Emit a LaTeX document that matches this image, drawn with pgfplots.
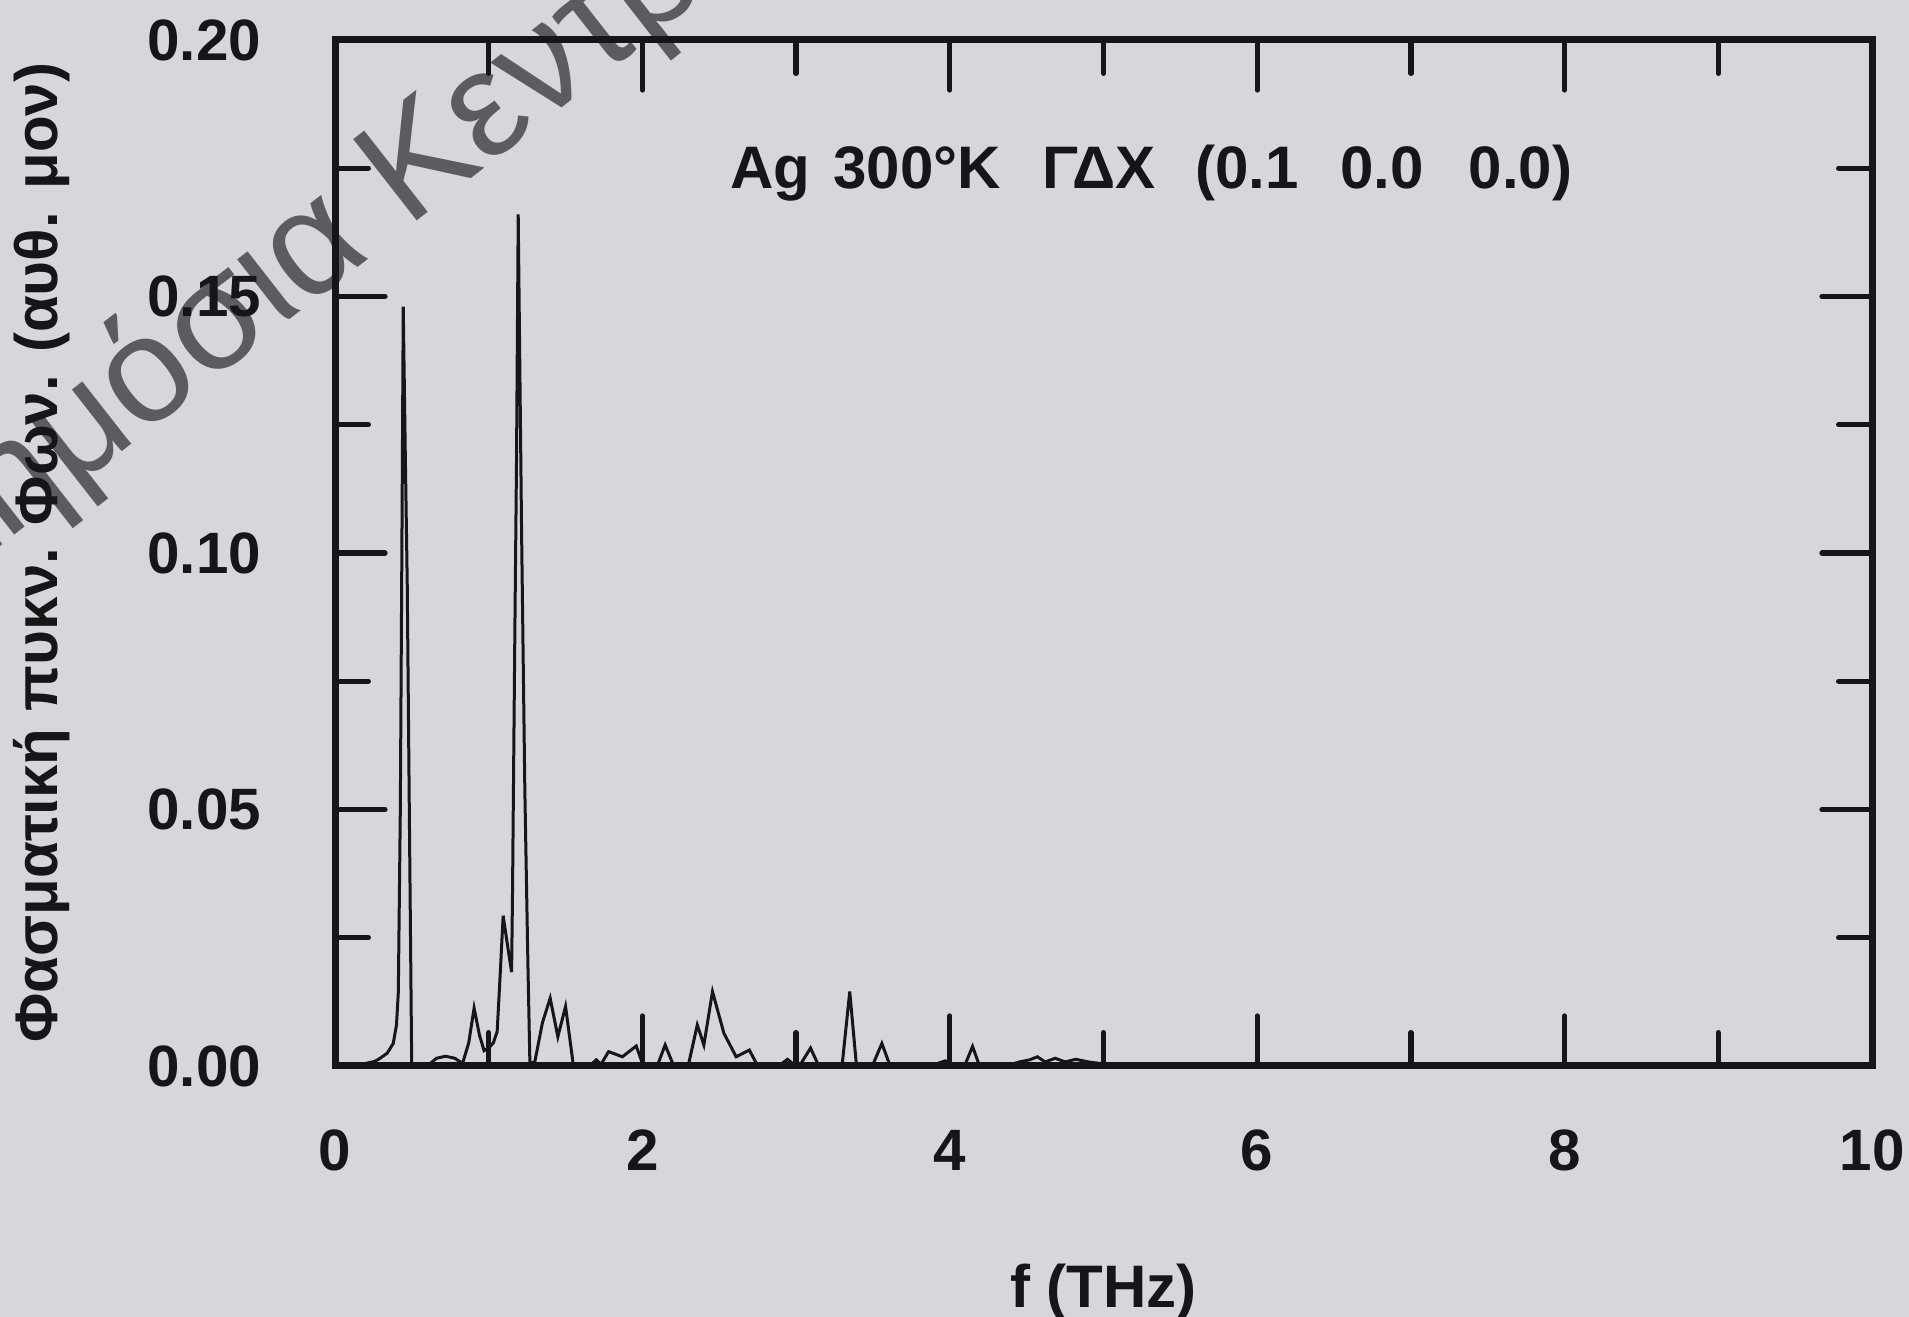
\documentclass[border=0pt]{standalone}
\usepackage{fontspec}
\setmainfont{Liberation Sans}
\usepackage{pgfplots}
\pgfplotsset{compat=1.18}
\definecolor{bgcol}{RGB}{214,214,220}
\definecolor{ink}{RGB}{22,22,25}
\definecolor{wm}{RGB}{92,92,96}
\begin{document}
\begin{tikzpicture}
\path[use as bounding box, fill=bgcol] (0,0) rectangle (572.7pt,395.1pt);
\node[rotate=38, anchor=base west, font=\fontsize{45}{54}\selectfont, text=wm, inner sep=0pt] at (122.1pt,326.5pt) {Κεντρική};
\node[rotate=38, anchor=base east, font=\fontsize{45}{54}\selectfont, text=wm, inner sep=0pt] at (112.25pt,318.8pt) {Δημόσια};
\begin{axis}[
  at={(100.5pt,75.3pt)}, anchor=south west,
  scale only axis, width=461.1pt, height=307.8pt,
  xmin=0, xmax=10, ymin=0, ymax=0.2,
  axis line style={line width=2.1pt, draw=ink},
  tick align=inside, tick pos=both,
  xtick={0,2,4,6,8,10}, minor xtick={1,3,5,7,9},
  ytick={0,0.05,0.1,0.15,0.2}, minor ytick={0.025,0.075,0.125,0.175},
  major tick length=15pt, minor tick length=10pt,
  every tick/.style={line width=1.6pt, draw=ink, line cap=round},
  scaled y ticks=false,
  /pgf/number format/assume math mode=true,
  y tick label style={/pgf/number format/fixed, /pgf/number format/fixed zerofill, /pgf/number format/precision=2},
  ticklabel style={font=\bfseries\fontsize{17.5}{20}\selectfont, text=ink},
  yticklabel style={anchor=east, inner sep=0pt, xshift=-22pt},
  xticklabel style={anchor=north, inner sep=0pt, yshift=-19pt},
  xlabel={f (THz)},
  xlabel style={at={(axis description cs:0.5,-0.220)}, anchor=center, font=\bfseries\fontsize{18}{21}\selectfont, text=ink},
  ylabel={Φασματική πυκν. Φων. (αυθ. μον)},
  ylabel style={at={(axis description cs:-0.1907,0.5)}, anchor=center, font=\bfseries\fontsize{18}{21}\selectfont, text=ink},
]
\addplot[ink, line width=0.9pt, sharp plot, mark=none] coordinates {
(0,0.0003) (0.10,0.0003) (0.20,0.0005) (0.26,0.0009) (0.293,0.0015) (0.34,0.0025) (0.379,0.0044) (0.40,0.008) (0.412,0.0144) (0.425,0.05) (0.435,0.10) (0.444,0.148) (0.457,0.120) (0.470,0.094) (0.485,0.045) (0.499,0.0005)
(0.55,0.0003) (0.62,0.0005) (0.66,0.0015) (0.72,0.0019) (0.78,0.0015) (0.83,0.0005) (0.87,0.0045) (0.905,0.0113) (0.94,0.0060) (0.97,0.0030) (1.00,0.0035) (1.03,0.0045) (1.055,0.0067) (1.075,0.018)
(1.094,0.0293) (1.12,0.024) (1.149,0.0183) (1.155,0.034) (1.170,0.084) (1.181,0.118) (1.192,0.166) (1.214,0.104) (1.235,0.054) (1.255,0.020) (1.268,0.0005)
(1.30,0.0008) (1.35,0.0085) (1.40,0.0132) (1.45,0.0057) (1.50,0.0116) (1.55,0.0003) (1.60,0.0003) (1.67,0.0004) (1.70,0.0012) (1.73,0.0003) (1.78,0.0028) (1.87,0.0018) (1.96,0.0039) (2.00,0.0005) (2.05,0.0003) (2.10,0.0003) (2.148,0.0041) (2.20,0.0003)
(2.30,0.0003) (2.357,0.0080) (2.40,0.0041) (2.456,0.0145) (2.53,0.0064) (2.61,0.0018) (2.696,0.0031) (2.745,0.0003) (2.90,0.0003) (2.944,0.0013) (2.98,0.0004) (3.03,0.0004) (3.094,0.0035) (3.143,0.0003)
(3.30,0.0003) (3.349,0.0145) (3.392,0.0003) (3.50,0.0003) (3.558,0.0044) (3.608,0.0003) (3.90,0.0003) (3.97,0.0010) (4.02,0.0003) (4.10,0.0003) (4.148,0.0038) (4.19,0.0003)
(4.40,0.0003) (4.454,0.0008) (4.52,0.0012) (4.57,0.0018) (4.62,0.0008) (4.686,0.0015) (4.75,0.0008) (4.82,0.0013) (4.90,0.0008) (5.00,0.0004) (6.0,0.0002) (8.0,0.0002) (10.0,0.0002)
};
\node[anchor=base, font=\bfseries\fontsize{18}{21}\selectfont, text=ink] at (axis cs:5.31,0.1711) {Ag\hspace{7pt}300°K\hspace{12.5pt}ΓΔΧ\hspace{12pt}(0.1\hspace{12.5pt}0.0\hspace{13.5pt}0.0)};
\end{axis}
\end{tikzpicture}
\end{document}
